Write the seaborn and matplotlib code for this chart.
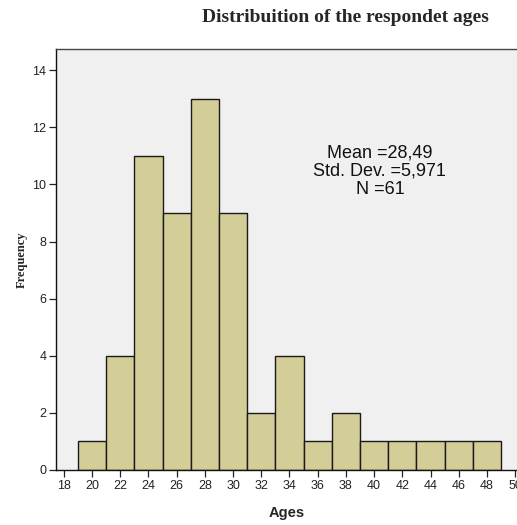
import numpy as np
import matplotlib
matplotlib.use("Agg")
import matplotlib.pyplot as plt
import seaborn as sns

bin_edges = [19, 21, 23, 25, 27, 29, 31, 33, 35, 37, 39, 41, 43, 45, 47, 49]
counts = [1, 4, 11, 9, 13, 9, 2, 4, 1, 2, 1, 1, 1, 1, 1]
x_ticks = [18, 20, 22, 24, 26, 28, 30, 32, 34, 36, 38, 40, 42, 44, 46, 48, 50]
y_ticks = [0, 2, 4, 6, 8, 10, 12, 14]
stats_text = "Mean =28,49\nStd. Dev. =5,971\nN =61"
title = "Distribuition of the respondet ages"

centers = [(a + b) / 2 for a, b in zip(bin_edges[:-1], bin_edges[1:])]

sns.set_style("ticks")
plt.rcParams['font.family'] = ['Liberation Sans', 'DejaVu Sans']

fig = plt.figure(figsize=(5.17, 5.25), dpi=100)
ax = fig.add_axes([56/517, 55/525, 1 - 56/517 + 0.002, (470-49)/525])
ax.set_facecolor("#F0F0F0")

sns.histplot(x=centers, weights=counts, bins=bin_edges, ax=ax,
             color="#D3CE97", alpha=1, edgecolor="#1a1a1a", linewidth=1.0)

ax.set_xlim(17.45, 50.2)
ax.set_ylim(0, 14.74)
ax.set_xticks(x_ticks)
ax.set_yticks(y_ticks)
ax.tick_params(axis='both', labelsize=9, length=5, width=0.9, colors="#222222",
               labelcolor="#222222", direction='out', pad=2)
for s in ['left', 'bottom', 'top', 'right']:
    ax.spines[s].set_color("#444444")
    ax.spines[s].set_linewidth(1.0)
ax.spines['left'].set_color("#111111")
ax.spines['bottom'].set_color("#111111")

ax.set_xlabel("Ages", fontsize=10.5, fontweight='bold', labelpad=10)
ax.set_ylabel("Frequency", fontsize=9, fontweight='bold', family=['Liberation Serif'], labelpad=3)

ax.text(0.701, 0.71, stats_text, transform=ax.transAxes, ha='center', va='center',
        fontsize=13, linespacing=1.12, color="#111111")

fig.text(345/517, 1 - 18/525, title, ha='center', va='center', fontsize=14,
         fontweight='bold', family=['Liberation Serif'])

fig.savefig("out.png", dpi=100)
